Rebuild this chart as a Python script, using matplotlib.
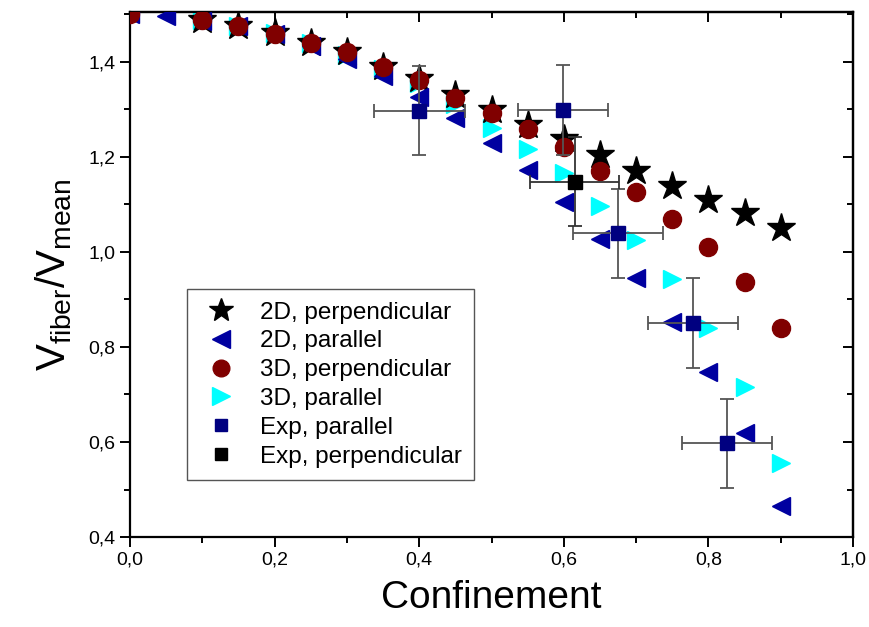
import matplotlib.pyplot as plt
from matplotlib.lines import Line2D
from matplotlib.ticker import MultipleLocator, FuncFormatter

# data
x_sim = [0.0, 0.05, 0.1, 0.15, 0.2, 0.25, 0.3, 0.35, 0.4, 0.45, 0.5, 0.55, 0.6, 0.65, 0.7, 0.75, 0.8, 0.85, 0.9]
perp_2d = [1.5, 1.495, 1.487, 1.475, 1.46, 1.44, 1.42, 1.39, 1.364, 1.331, 1.299, 1.268, 1.238, 1.203, 1.171, 1.139, 1.110, 1.081, 1.051]
par_2d = [1.5, 1.497, 1.485, 1.475, 1.458, 1.433, 1.405, 1.37, 1.326, 1.282, 1.23, 1.173, 1.104, 1.028, 0.946, 0.852, 0.747, 0.618, 0.465]
x_3d = [0.0, 0.1, 0.15, 0.2, 0.25, 0.3, 0.35, 0.4, 0.45, 0.5, 0.55, 0.6, 0.65, 0.7, 0.75, 0.8, 0.85, 0.9]
perp_3d = [1.5, 1.487, 1.475, 1.458, 1.44, 1.42, 1.39, 1.362, 1.324, 1.293, 1.259, 1.221, 1.171, 1.127, 1.070, 1.011, 0.936, 0.839]
par_3d = [1.5, 1.487, 1.475, 1.46, 1.44, 1.415, 1.385, 1.355, 1.312, 1.261, 1.217, 1.165, 1.097, 1.026, 0.942, 0.839, 0.715, 0.555]

x_exp_par = [0.40, 0.599, 0.675, 0.779, 0.826]
y_exp_par = [1.297, 1.299, 1.039, 0.850, 0.597]
xerr_par = [0.063, 0.062, 0.062, 0.062, 0.062]
yerr_par = [0.094, 0.095, 0.094, 0.095, 0.094]

x_exp_perp = [0.615]
y_exp_perp = [1.148]
xerr_perp = [0.062]
yerr_perp = [0.093]

plt.rcParams['font.family'] = ['Liberation Sans', 'DejaVu Sans']
plt.rcParams['mathtext.default'] = 'regular'

fig = plt.figure(figsize=(8.69, 6.27), dpi=100)
ax = fig.add_axes([0.1496, 0.1435, 0.832, 0.8375])

ax.plot(x_sim[2:], perp_2d[2:], linestyle='none', marker='*', ms=21, color='black', zorder=3)
ax.plot(x_sim, par_2d, linestyle='none', marker='<', ms=13, color='#0000A0', zorder=3)
ax.plot(x_3d, par_3d, linestyle='none', marker='>', ms=13, color='#00FFFF', zorder=2)
ax.plot(x_3d, perp_3d, linestyle='none', marker='o', ms=13, color='#800000', zorder=4)
ax.errorbar(x_exp_par, y_exp_par, xerr=xerr_par, yerr=yerr_par, fmt='s', ms=10,
            color='#000080', ecolor='#555555', elinewidth=1.3, capsize=5, capthick=1.3, zorder=5)
ax.errorbar(x_exp_perp, y_exp_perp, xerr=xerr_perp, yerr=yerr_perp, fmt='s', ms=10,
            color='black', ecolor='#333333', elinewidth=1.3, capsize=5, capthick=1.3, zorder=5)

ax.set_xlim(0, 1.0)
ax.set_ylim(0.4, 1.505)
ax.xaxis.set_major_locator(MultipleLocator(0.2))
ax.xaxis.set_minor_locator(MultipleLocator(0.1))
ax.yaxis.set_major_locator(MultipleLocator(0.2))
ax.yaxis.set_minor_locator(MultipleLocator(0.1))
comma = FuncFormatter(lambda v, p: ('%.1f' % v).replace('.', ','))
ax.xaxis.set_major_formatter(comma)
ax.yaxis.set_major_formatter(comma)

for s in ax.spines.values():
    s.set_linewidth(1.6)
ax.tick_params(which='both', direction='out', width=1.4, labelsize=14)
ax.tick_params(which='major', length=7)
ax.tick_params(which='minor', length=4)

# inward ticks on the top and right spines
sec_x = ax.secondary_xaxis('top')
sec_x.xaxis.set_major_locator(MultipleLocator(0.2))
sec_x.xaxis.set_minor_locator(MultipleLocator(0.1))
sec_x.tick_params(which='both', direction='in', labeltop=False, width=1.4)
sec_x.tick_params(which='major', length=7)
sec_x.tick_params(which='minor', length=4)
sec_x.spines['top'].set_linewidth(1.6)
sec_y = ax.secondary_yaxis('right')
sec_y.yaxis.set_major_locator(MultipleLocator(0.2))
sec_y.yaxis.set_minor_locator(MultipleLocator(0.1))
sec_y.tick_params(which='both', direction='in', labelright=False, width=1.4)
sec_y.tick_params(which='major', length=7)
sec_y.tick_params(which='minor', length=4)
sec_y.spines['right'].set_linewidth(1.6)

ax.set_xlabel('Confinement', fontsize=28, labelpad=8)
ax.set_ylabel('V$_{fiber}$/V$_{mean}$', fontsize=29, labelpad=10)

handles = [
    Line2D([], [], linestyle='none', marker='*', ms=18, color='black'),
    Line2D([], [], linestyle='none', marker='<', ms=13, color='#0000A0'),
    Line2D([], [], linestyle='none', marker='o', ms=12, color='#800000'),
    Line2D([], [], linestyle='none', marker='>', ms=13, color='#00FFFF'),
    Line2D([], [], linestyle='none', marker='s', ms=9, color='#000080'),
    Line2D([], [], linestyle='none', marker='s', ms=9, color='black'),
]
labels = ['2D, perpendicular', '2D, parallel', '3D, perpendicular', '3D, parallel',
          'Exp, parallel', 'Exp, perpendicular']
leg = ax.legend(handles, labels, loc='lower left', bbox_to_anchor=(0.079, 0.109),
                prop={'size': 17.5}, frameon=True, fancybox=False, framealpha=1,
                edgecolor='#555555', handletextpad=0.7, labelspacing=0.28, borderpad=0.5,
                borderaxespad=0, handlelength=1.8)
leg.get_frame().set_linewidth(1.0)

plt.savefig('out.png', dpi=100)
